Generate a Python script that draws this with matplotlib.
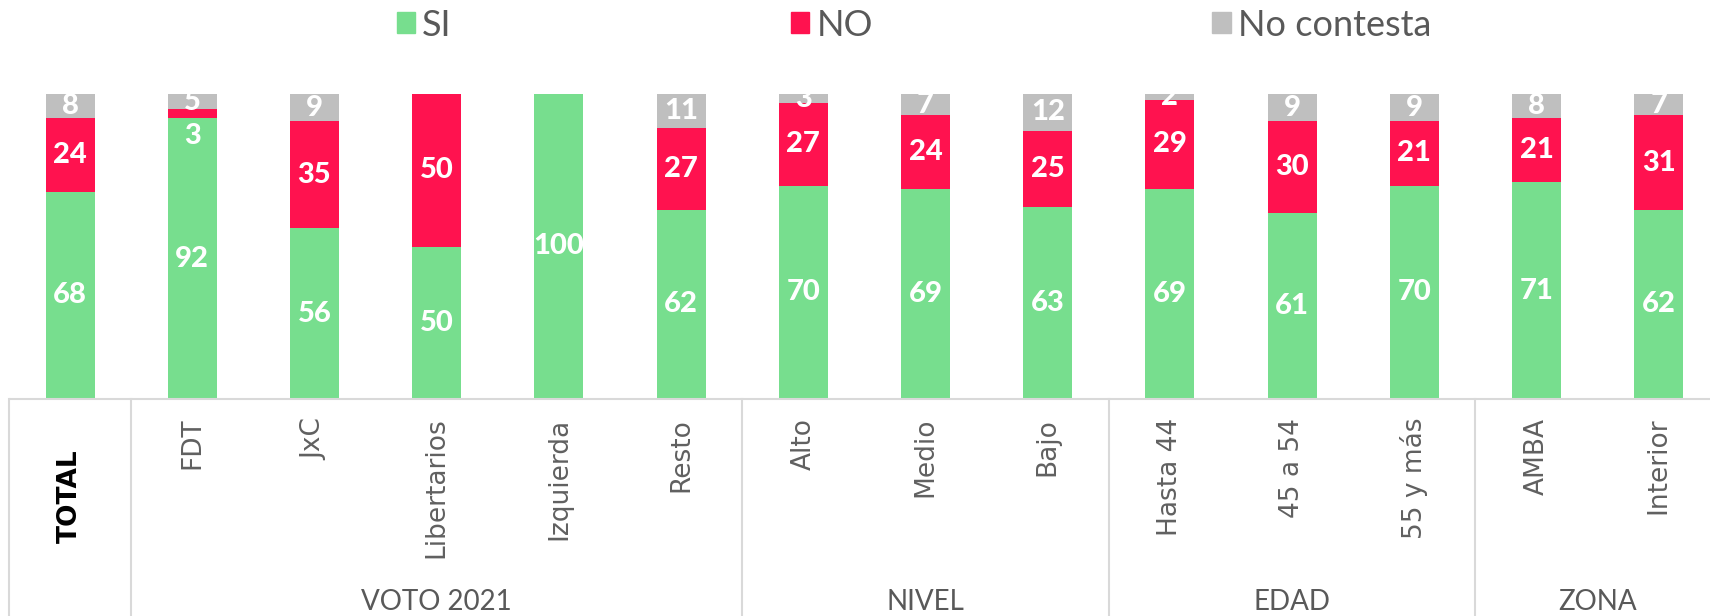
import matplotlib
matplotlib.use("Agg")
import matplotlib.pyplot as plt
import numpy as np
from matplotlib.patches import Patch
from matplotlib.transforms import blended_transform_factory

categories = ["TOTAL", "FDT", "JxC", "Libertarios", "Izquierda", "Resto",
              "Alto", "Medio", "Bajo", "Hasta 44", "45 a 54", "55 y más",
              "AMBA", "Interior"]
si = [68, 92, 56, 50, 100, 62, 70, 69, 63, 69, 61, 70, 71, 62]
no = [24, 3, 35, 50, 0, 27, 27, 24, 25, 29, 30, 21, 21, 31]
nc = [8, 5, 9, 0, 0, 11, 3, 7, 12, 2, 9, 9, 8, 7]
series_names = ["SI", "NO", "No contesta"]
groups = ["VOTO 2021", "NIVEL", "EDAD", "ZONA"]
group_spans = [(1, 5), (6, 8), (9, 11), (12, 13)]

GREEN = "#77DE8E"
RED = "#FF124F"
GREY = "#BFBFBF"
TXT = "#595959"
LINE = "#D9D9D9"

W, H = 1710, 616
fig = plt.figure(figsize=(W / 100, H / 100), dpi=100)
ax_bottom = 1 - 399 / H
ax_height = 305 / H
ax = fig.add_axes([9 / W, ax_bottom, 14 * 122.2 / W, ax_height])
ax.set_xlim(-0.5, 13.5)
ax.set_ylim(0, 100)
for s in ax.spines.values():
    s.set_visible(False)
ax.set_yticks([])

x = np.arange(len(categories))
si_a, no_a, nc_a = np.array(si), np.array(no), np.array(nc)
bw = 0.4
ax.bar(x, si_a, width=bw, color=GREEN, clip_on=False)
ax.bar(x, no_a, width=bw, bottom=si_a, color=RED, clip_on=False)
ax.bar(x, nc_a, width=bw, bottom=si_a + no_a, color=GREY, clip_on=False)

lab_kw = dict(color="white", fontsize=21, fontweight="black", family=["Lato", "DejaVu Sans"],
              ha="center", va="center", clip_on=False)
for i in x:
    if si_a[i] > 0:
        ax.text(i, si_a[i] / 2, str(si_a[i]), **lab_kw)
    if no_a[i] > 0:
        if no_a[i] < 5:
            ax.annotate(str(no_a[i]), (i, si_a[i]), xytext=(0, -3), textcoords="offset points",
                        **{**lab_kw, "va": "top"})
        else:
            ax.text(i, si_a[i] + no_a[i] / 2, str(no_a[i]), **lab_kw)
    if nc_a[i] > 0:
        ax.text(i, si_a[i] + no_a[i] + nc_a[i] / 2, str(nc_a[i]), **lab_kw)

# table lines
ax.plot([-0.5, 13.6], [0, 0], color=LINE, lw=1.5, clip_on=False, solid_capstyle="butt")
trans_xa = blended_transform_factory(ax.transData, ax.transAxes)
for b in [-0.5, 0.5, 5.5, 8.5, 11.5]:
    ax.plot([b, b], [0, -1.5], color=LINE, lw=1.5, transform=trans_xa, clip_on=False)

# category tick labels
ax.set_xticks(x[1:])
ax.set_xticklabels(categories[1:], rotation=90, fontsize=19, color="#606060",
                   family=["DejaVu Sans"], va="top", ha="center")
ax.tick_params(axis="x", length=0, pad=13.5)

trans_xf = blended_transform_factory(ax.transData, fig.transFigure)
ax.text(0, 1 - 496 / H, categories[0], rotation=90, fontsize=19, fontweight="bold",
        color="black", ha="center", va="center", transform=trans_xf, family=["DejaVu Sans"])
for g, (a, b) in zip(groups, group_spans):
    ax.text((a + b) / 2, 1 - 610 / H, g, fontsize=20, color=TXT, ha="center", va="baseline",
            transform=trans_xf, family=["Lato", "DejaVu Sans"])

handles = [Patch(color=GREEN), Patch(color=RED), Patch(color=GREY)]
fig.legend(handles, series_names, loc="center left", bbox_to_anchor=(397 / W, 1 - 25 / H),
           ncol=3, frameon=False, borderpad=0, borderaxespad=0, handlelength=0.5,
           handleheight=0.5, handletextpad=0.2, columnspacing=9.4,
           prop={"family": ["Lato", "DejaVu Sans"], "size": 26}, labelcolor=TXT)

fig.savefig("out.png", dpi=100)
